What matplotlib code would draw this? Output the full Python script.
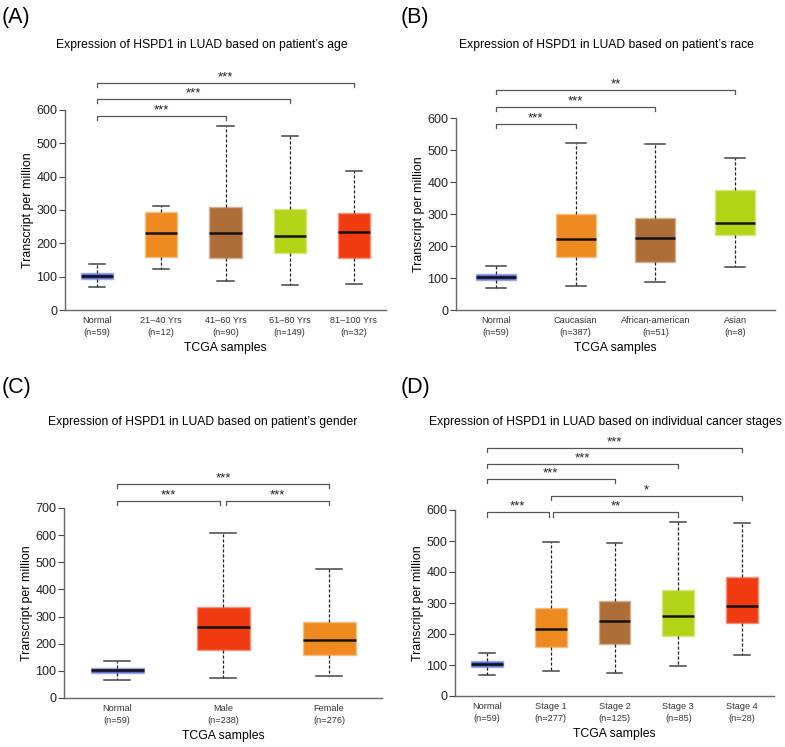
import matplotlib
matplotlib.use("Agg")
import matplotlib.pyplot as plt

plt.rcParams['font.family'] = ['Liberation Sans', 'DejaVu Sans']

# ---- data ----
age_labels = ["Normal\n(n=59)", "21\u201340 Yrs\n(n=12)", "41\u201360 Yrs\n(n=90)",
              "61\u201380 Yrs\n(n=149)", "81\u2013100 Yrs\n(n=32)"]
age_low = [68, 124, 86, 74, 78]
age_q1 = [92, 159, 157, 170, 156]
age_med = [101, 232, 232, 223, 234]
age_q3 = [110, 294, 309, 303, 292]
age_high = [138, 313, 552, 522, 418]
age_sig = [(0, 2, 582, "***"), (0, 3, 634, "***"), (0, 4, 682, "***")]

race_labels = ["Normal\n(n=59)", "Caucasian\n(n=387)", "African-american\n(n=51)", "Asian\n(n=8)"]
race_low = [70, 75, 86, 135]
race_q1 = [95, 167, 150, 233]
race_med = [102, 223, 226, 271]
race_q3 = [114, 301, 289, 374]
race_high = [139, 523, 518, 475]
race_sig = [(0, 1, 581, "***"), (0, 2, 635, "***"), (0, 3, 688, "**")]

gender_labels = ["Normal\n(n=59)", "Male\n(n=238)", "Female\n(n=276)"]
gender_low = [68, 75, 80]
gender_q1 = [92, 178, 157]
gender_med = [102, 261, 212]
gender_q3 = [112, 335, 280]
gender_high = [138, 608, 475]
gender_sig = [(0, 0.97, 726, "***"), (1.03, 2, 726, "***"), (0, 2, 789, "***")]

stage_labels = ["Normal\n(n=59)", "Stage 1\n(n=277)", "Stage 2\n(n=125)",
                "Stage 3\n(n=85)", "Stage 4\n(n=28)"]
stage_low = [67, 80, 74, 96, 133]
stage_q1 = [92, 158, 168, 192, 234]
stage_med = [102, 216, 241, 259, 289]
stage_q3 = [112, 284, 306, 341, 384]
stage_high = [138, 497, 495, 560, 557]
stage_sig = [(0, 0.97, 592, "***"), (1.03, 3, 592, "**"), (1, 4, 645, "*"),
             (0, 2, 699, "***"), (0, 3, 748, "***"), (0, 4, 801, "***")]

BLUE = "#4c62d2"
ORANGE = "#ee8a20"
BROWN = "#ad6f37"
LIME = "#b3d316"
RED = "#f03b10"

W, H = 785, 747
fig = plt.figure(figsize=(W / 100, H / 100), dpi=100)


def px_axes(l, r, t, b):
    return fig.add_axes([l / W, 1 - b / H, (r - l) / W, (b - t) / H])


def lighten(c, f=0.45):
    rgb = matplotlib.colors.to_rgb(c)
    return tuple(x + (1 - x) * f for x in rgb)


def panel(ax, labels, low, q1, med, q3, high, colors, ymax, yticks, sig):
    stats = []
    for i in range(len(labels)):
        stats.append(dict(med=med[i], q1=q1[i], q3=q3[i], whislo=low[i], whishi=high[i], fliers=[]))
    bp = ax.bxp(stats, positions=range(len(labels)), widths=0.5, patch_artist=True,
                showfliers=False, capwidths=0.25,
                whiskerprops=dict(color="#222222", linestyle=(0, (2.5, 1.5)), linewidth=0.9),
                capprops=dict(color="#444444", linewidth=1.1),
                medianprops=dict(color="#111111", linewidth=1.8))
    for patch, c in zip(bp["boxes"], colors):
        patch.set_facecolor(c)
        patch.set_edgecolor(lighten(c))
        patch.set_linewidth(1.0)
    ax.set_xlim(-0.5, len(labels) - 0.5)
    ax.set_ylim(0, ymax)
    ax.set_yticks(yticks)
    ax.set_xticks(range(len(labels)))
    ax.set_xticklabels(labels, fontsize=6.6, color="#333333", linespacing=1.55)
    ax.tick_params(axis="x", length=0, pad=4)
    ax.tick_params(axis="y", labelsize=9, length=4, width=0.8, pad=1.5,
                   colors="#444444", labelcolor="#222222")
    for s in ["top", "right"]:
        ax.spines[s].set_visible(False)
    for s in ["left", "bottom"]:
        ax.spines[s].set_color("#666666")
        ax.spines[s].set_linewidth(1.0)
    ax.set_ylabel("Transcript per million", fontsize=8.9, labelpad=2)
    ax.set_xlabel("TCGA samples", fontsize=8.8, labelpad=3)
    tick = ymax * 0.022
    for a, b, y, txt in sig:
        ax.plot([a, a, b, b], [y - tick, y, y, y - tick], color="#555555", lw=0.9, clip_on=False)
        ax.text((a + b) / 2, y - ymax * 0.002, txt, ha="center", va="bottom", fontsize=9.5,
                color="#222222")
    return ax


axA = px_axes(65, 386, 110, 310)
panel(axA, age_labels, age_low, age_q1, age_med, age_q3, age_high,
      [BLUE, ORANGE, BROWN, LIME, RED], 600, range(0, 601, 100), age_sig)
axB = px_axes(456, 775, 118, 310)
panel(axB, race_labels, race_low, race_q1, race_med, race_q3, race_high,
      [BLUE, ORANGE, BROWN, LIME], 600, range(0, 601, 100), race_sig)
axC = px_axes(64, 382, 508, 698)
panel(axC, gender_labels, gender_low, gender_q1, gender_med, gender_q3, gender_high,
      [BLUE, RED, ORANGE], 700, range(0, 701, 100), gender_sig)
axD = px_axes(455, 774, 510, 696)
panel(axD, stage_labels, stage_low, stage_q1, stage_med, stage_q3, stage_high,
      [BLUE, ORANGE, BROWN, LIME, RED], 600, range(0, 601, 100), stage_sig)

# titles and panel letters
fig.text(202 / W, 1 - 45 / H, "Expression of HSPD1 in LUAD based on patient\u2019s age",
         ha="center", va="center", fontsize=8.7)
fig.text(606 / W, 1 - 45 / H, "Expression of HSPD1 in LUAD based on patient\u2019s race",
         ha="center", va="center", fontsize=8.7)
fig.text(203 / W, 1 - 422 / H, "Expression of HSPD1 in LUAD based on patient\u2019s gender",
         ha="center", va="center", fontsize=8.7)
fig.text(605 / W, 1 - 422 / H, "Expression of HSPD1 in LUAD based on individual cancer stages",
         ha="center", va="center", fontsize=8.7)
for x, y, t in [(2, 18, "(A)"), (401, 18, "(B)"), (2, 387, "(C)"), (401, 387, "(D)")]:
    fig.text(x / W, 1 - y / H, t, ha="left", va="center", fontsize=15.5)

fig.savefig("out.png", dpi=100)
